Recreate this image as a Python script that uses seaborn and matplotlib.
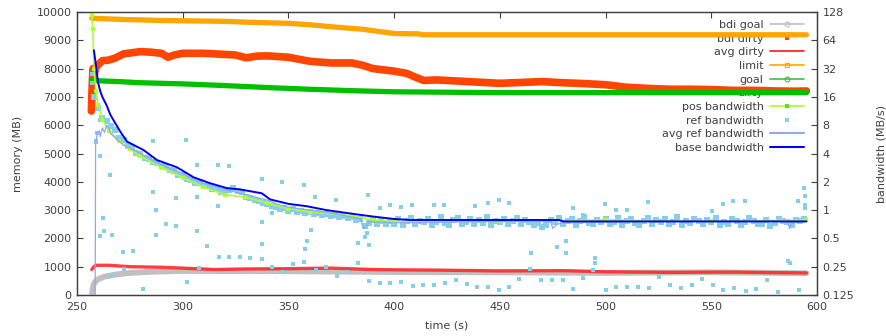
import numpy as np
import matplotlib
matplotlib.use("Agg")
import matplotlib.pyplot as plt
from matplotlib.lines import Line2D
from matplotlib.ticker import FixedLocator, FixedFormatter, NullLocator
import seaborn as sns

# MEMORY SERIES (MB)
limit_t = [257, 270, 290, 300, 320, 330, 350, 360, 370, 385, 400, 412, 413, 595]
limit_mb = [9780, 9740, 9700, 9690, 9670, 9640, 9600, 9550, 9480, 9390, 9240, 9225, 9195, 9195]

bdi_dirty_t = [256.8, 257.0, 257.3, 257.6, 258.0, 258.6, 259, 262, 265, 268, 272, 276, 280, 285,
               290, 293, 296, 300, 310, 320, 325, 330, 335, 340, 350, 360, 370, 380, 385, 390,
               400, 406, 410, 414, 420, 430, 440, 450, 460, 470, 480, 490, 500, 510, 520, 530,
               540, 550, 560, 570, 580, 590, 595]
bdi_dirty_mb = [6500, 7000, 7600, 8000, 7700, 7950, 8070, 8280, 8300, 8370, 8520, 8560, 8600, 8580,
                8540, 8400, 8480, 8540, 8540, 8500, 8480, 8380, 8440, 8450, 8400, 8260, 8200, 8200,
                8120, 8000, 7910, 7830, 7700, 7580, 7600, 7560, 7520, 7480, 7510, 7540, 7500, 7470,
                7430, 7340, 7300, 7270, 7270, 7260, 7230, 7230, 7210, 7200, 7210]

goal_t = [257, 260, 270, 280, 300, 320, 340, 350, 360, 380, 400, 450, 500, 550, 595]
goal_mb = [7600, 7570, 7540, 7500, 7460, 7400, 7330, 7300, 7270, 7220, 7180, 7150, 7150, 7150, 7150]

bdi_goal_t = [257, 257.5, 258, 259, 260, 263, 268, 275, 285, 300, 350, 400, 450, 500, 550, 595]
bdi_goal_mb = [0, 250, 400, 500, 560, 650, 720, 780, 820, 850, 840, 810, 800, 780, 800, 770]

avg_dirty_t = [257, 258, 259, 265, 275, 290, 300, 315, 330, 350, 370, 390, 400, 420, 450, 480,
               500, 530, 560, 580, 595]
avg_dirty_mb = [900, 1000, 1050, 1050, 1000, 980, 950, 900, 920, 930, 950, 900, 890, 880, 850, 860,
                820, 800, 810, 790, 780]

# BANDWIDTH SERIES (MB/s)
pos_bw_t = [257, 257.5, 258, 259, 260, 262, 265, 270, 275, 280, 290, 300, 310, 320, 330, 340,
            350, 360, 380, 390, 400, 450, 500, 550, 595]
pos_bw = [119, 84.4, 32, 18.4, 13, 9.19, 6.96, 5.46, 4.44, 3.73, 2.83, 2.22, 1.74, 1.46, 1.37, 1.19,
          1.035, 0.966, 0.871, 0.785, 0.758, 0.758, 0.785, 0.758, 0.785]

base_bw_t = [258, 259, 260, 261, 262, 264, 265.8, 270.5, 273.7, 281.5, 287.8, 297.3, 305.2, 313,
             321, 327.1, 337.4, 341.3, 350, 358.6, 368, 382.3, 390.2, 399.6, 407.5, 478, 480, 595]
base_bw = [50.2, 34.3, 22.6, 18.4, 16, 13.0, 10.3, 6.82, 5.35, 4.35, 3.41, 2.85, 2.23, 1.93,
           1.71, 1.66, 1.51, 1.30, 1.165, 1.10, 1.0, 0.901, 0.853, 0.806, 0.785, 0.785, 0.758, 0.758]

avg_ref_t = [258.6, 258.8, 259.5, 260.5, 261, 262, 263, 264, 265, 266, 268, 270, 272, 275, 280,
             285, 290, 295, 300, 305, 310, 315, 320, 330, 340, 345, 350, 360, 370, 380, 384,
             385.5, 387, 388, 400, 450, 474, 475, 477, 480, 520, 586, 587, 588, 595]
avg_ref_bw = [0.1, 4.92, 6.5, 6.96, 6.06, 7.46, 6.73, 8.0, 7.46, 6.5, 5.9, 5.4, 4.9, 4.59, 4.0,
              3.48, 3.03, 2.73, 2.46, 2.14, 1.93, 1.80, 1.65, 1.46, 1.275, 1.149, 1.072, 1.0, 0.933,
              0.841, 0.812, 0.637, 0.683, 0.758, 0.732, 0.758, 0.758, 0.637, 0.707, 0.732, 0.758,
              0.758, 0.637, 0.732, 0.758]

# ref bandwidth: main band, one reading every 2 s from t=258
ref_band_bw = [16.0, 12.1, 9.6, 8.8, 7.8, 7.1, 5.9, 5.6, 4.8, 4.55,
               4.05, 3.95, 3.55, 3.50, 3.22, 3.20, 2.93, 2.88, 2.64, 2.60,
               2.38, 2.34, 2.12, 2.10, 1.96, 1.94, 1.79, 1.79, 1.68, 1.67,
               1.57, 1.60, 1.62, 1.71, 1.61, 1.54, 1.39, 1.34, 1.28, 1.25,
               1.19, 1.17, 1.11, 1.09, 1.04, 1.05, 0.98, 1.02, 0.96, 0.99,
               0.94, 0.96, 0.91, 0.94, 0.89, 0.92, 0.86, 0.89, 0.84, 0.87,
               0.82, 0.84, 0.79, 0.80, 0.68, 0.73, 0.78, 0.72, 0.77, 0.71,
               0.76,
               0.72, 0.80, 0.70, 0.77, 0.83, 0.71, 0.76, 0.74, 0.81, 0.69,
               0.75, 0.84, 0.73, 0.70, 0.78, 0.82, 0.72, 0.75, 0.80, 0.71,
               0.79, 0.73, 0.85, 0.70, 0.77, 0.74, 0.81, 0.72, 0.76, 0.83,
               0.71, 0.78, 0.74, 0.69, 0.73, 0.66, 0.70, 0.79, 0.75, 0.82,
               0.72, 0.77, 0.80, 0.70, 0.76, 0.84, 0.73, 0.71, 0.79, 0.75,
               0.81, 0.72, 0.74, 0.83, 0.70, 0.77, 0.80, 0.73, 0.69, 0.76,
               0.82, 0.71, 0.78, 0.74, 0.80, 0.72, 0.75, 0.84, 0.70, 0.77,
               0.73, 0.81, 0.76, 0.71, 0.79, 0.74, 0.82, 0.69, 0.75, 0.72,
               0.80, 0.77, 0.70, 0.74, 0.83, 0.76, 0.72, 0.71, 0.78, 0.68,
               0.73, 0.81, 0.77, 0.74, 0.70, 0.79, 0.76, 0.80]
ref_band_t = np.arange(258, 258 + 2 * len(ref_band_bw), 2)

# ref bandwidth: scattered readings away from the band
ref_out_t = [259.3, 258.8, 259.0, 260.9, 262.4, 262.8, 260.9, 266.4, 265.6, 271.9, 276.6, 281.4,
             286.1, 286.1, 287.2, 287.2, 292.0, 296.7, 296.7, 301.4, 301.9, 306.6, 306.6, 306.6,
             307.7, 311.4, 316.8, 316.8, 317.2, 321.9, 321.9, 327.1, 331.8, 337.4, 337.4, 337.7,
             337.4, 342.2, 346.8, 347.2, 352.0, 357.5, 362.6, 372.7, 387.8, 393.3, 398.0, 403.3,
             342.4, 360.5, 358.6, 357.9, 387.0, 386.3, 382.7, 387.9, 357.5, 367.8, 383.0, 363.0,
             372.8, 377.8, 388.0, 393.2, 398.2, 403.4, 408.3, 419.0, 423.6, 438.3, 444.6, 449.8,
             454.4, 484.8, 489.5, 464.7, 476.9, 481.1, 481.1, 495.0, 495.0, 494.2, 408.7, 413.8,
             418.9, 424.0, 429.1, 434.3, 439.1, 444.3, 449.6, 454.5, 459.2, 464.3, 469.3, 474.8,
             480.0, 484.8, 489.5, 499.8, 505.0, 510.0, 520.2, 550.5, 555.7, 560.4, 565.9, 591.2,
             594.4, 594.4, 594.0, 594.5, 586.5, 587.0, 500.0, 505.0, 510.3, 515.5, 520.6, 525.3,
             530.5, 535.6, 540.8, 545.8, 550.7, 555.7, 560.9, 566.3, 571.2, 576.2, 581.7, 591.5,
             272.2, 266.1, 257.0, 257.3, 260.9]
ref_out_bw = [6.54, 5.28, 5.43, 3.78, 0.818, 0.603, 0.528, 0.543, 2.39, 0.361, 0.371, 0.144,
              5.43, 1.569, 1.0, 0.543, 0.712, 0.678, 1.338, 5.58, 0.173, 3.01, 1.385, 0.599,
              0.243, 0.418, 3.01, 1.102, 0.314, 2.97, 0.314, 0.319, 0.308, 2.13, 0.747, 0.432,
              0.301, 0.25, 2.0, 0.221, 0.264, 1.84, 1.366, 1.283, 1.444, 1.057, 1.125, 1.087,
              0.939, 0.616, 0.47, 0.39, 0.574, 0.514, 0.451, 0.426, 0.279, 0.248, 0.272, 0.228,
              0.199, 0.219, 0.176, 0.166, 0.166, 0.170, 1.133, 1.133, 1.133, 1.102, 1.197, 1.283,
              1.181, 1.042, 0.889, 0.347, 0.409, 0.47, 0.354, 0.308, 0.272, 0.23, 0.157, 0.159,
              0.159, 0.166, 0.18, 0.164, 0.151, 0.151, 0.142, 0.151, 0.183, 0.237, 0.18, 0.18,
              0.18, 0.144, 0.188, 1.165, 1.0, 1.0, 1.214, 0.986, 1.149, 1.257, 1.248, 1.248,
              1.133, 1.042, 1.717, 1.414, 0.287, 0.272, 0.142, 0.151, 0.151, 0.151, 0.149, 0.194,
              0.159, 0.149, 0.159, 0.183, 0.159, 0.142, 0.149, 0.138, 0.144, 0.18, 0.134, 0.142,
              0.237, 0.203, 22.6, 27.9, 9.19]

bw_ticks = [0.125, 0.25, 0.5, 1, 2, 4, 8, 16, 32, 64, 128]
bw_tick_labels = ["0.125", "0.25", "0.5", "1", "2", "4", "8", "16", "32", "64", "128"]

# COLOURS
c_bdi_goal = "#c0c0c0"
c_bdi_dirty = "#ff4500"
c_avg_dirty = "#ff2a2a"
c_limit = "#ffa500"
c_goal = "#00c000"
c_pos = "#adff2f"
c_ref = "#87ceeb"
c_avg_ref = "#8fa8f0"
c_base = "#0000ee"
c_text = "#404040"

# STYLE
sns.set_theme(style="white")
plt.rcParams["font.family"] = ["DejaVu Sans"]
plt.rcParams["font.size"] = 8
plt.rcParams["text.color"] = c_text
plt.rcParams["axes.labelcolor"] = c_text
plt.rcParams["xtick.color"] = c_text
plt.rcParams["ytick.color"] = c_text

fig = plt.figure(figsize=(8.87, 3.36), dpi=100)
ax = fig.add_axes([0.0868, 0.122, 0.8343, 0.8423])
ax2 = ax.twinx()

# memory (left axis)
sns.lineplot(x=bdi_goal_t, y=bdi_goal_mb, ax=ax, color=c_bdi_goal, linewidth=4.2,
             estimator=None, sort=False, zorder=3)
sns.lineplot(x=bdi_dirty_t, y=bdi_dirty_mb, ax=ax, color=c_bdi_dirty, linewidth=5.5,
             estimator=None, sort=False, zorder=3, solid_capstyle="round")
sns.lineplot(x=avg_dirty_t, y=avg_dirty_mb, ax=ax, color=c_avg_dirty, linewidth=2.4,
             estimator=None, sort=False, zorder=3, alpha=0.9)
sns.lineplot(x=limit_t, y=limit_mb, ax=ax, color=c_limit, linewidth=3.8,
             estimator=None, sort=False, zorder=3)
sns.lineplot(x=goal_t, y=goal_mb, ax=ax, color=c_goal, linewidth=3.8,
             estimator=None, sort=False, zorder=3)

# bandwidth (right axis, log2)
ax2.set_yscale("log", base=2)
sns.lineplot(x=pos_bw_t, y=pos_bw, ax=ax2, color=c_pos, linewidth=1.2, marker="s",
             markersize=2.5, markeredgewidth=0, estimator=None, sort=False)
sns.scatterplot(x=ref_band_t, y=ref_band_bw, ax=ax2, color=c_ref, marker="s", s=16,
                linewidth=0)
sns.scatterplot(x=ref_out_t, y=ref_out_bw, ax=ax2, color=c_ref, marker="s", s=8,
                linewidth=0)
sns.lineplot(x=avg_ref_t, y=avg_ref_bw, ax=ax2, color=c_avg_ref, linewidth=0.9,
             estimator=None, sort=False)
sns.lineplot(x=base_bw_t, y=base_bw, ax=ax2, color=c_base, linewidth=1.4,
             estimator=None, sort=False)

# AXES
ax.set_xlim(250, 600)
ax.set_ylim(0, 10000)
ax.set_xticks(range(250, 601, 50))
ax.set_yticks(range(0, 10001, 1000))
ax2.set_ylim(0.125, 128)
ax2.yaxis.set_major_locator(FixedLocator(bw_ticks))
ax2.yaxis.set_major_formatter(FixedFormatter(bw_tick_labels))
ax2.yaxis.set_minor_locator(NullLocator())

ax.tick_params(axis="x", direction="in", length=4, width=0.8, top=True, labelsize=8, pad=5)
ax.tick_params(axis="y", direction="in", length=4, width=0.8, labelsize=8, pad=4)
ax2.tick_params(axis="y", direction="in", length=4, width=0.8, labelsize=8, pad=4)
for a in (ax, ax2):
    for s in a.spines.values():
        s.set_color(c_text)
        s.set_linewidth(0.9)

ax.set_xlabel("time (s)", fontsize=8, labelpad=6)
ax.set_ylabel("memory (MB)", fontsize=8, labelpad=10)
ax2.set_ylabel("bandwidth (MB/s)", fontsize=8, labelpad=16)

# LEGEND (gnuplot style: text right-aligned, sample after text)
handles = [
    Line2D([], [], color=c_bdi_goal, lw=1.2, marker="o", ms=3.5, mfc="none", mew=0.8),
    Line2D([], [], color=c_bdi_dirty, lw=0, marker="s", ms=2.5, mew=0),
    Line2D([], [], color=c_avg_dirty, lw=1.3),
    Line2D([], [], color=c_limit, lw=1.2, marker="s", ms=3.5, mfc="none", mew=0.8),
    Line2D([], [], color="#40c040", lw=1.2, marker="o", ms=3.5, mfc="none", mew=0.8),
    Line2D([], [], color=c_bdi_dirty, lw=0),
    Line2D([], [], color=c_pos, lw=1.3, marker="s", ms=2.8, mfc="#66dd22", mew=0),
    Line2D([], [], color=c_ref, lw=0, marker="s", ms=2.5, mew=0),
    Line2D([], [], color=c_avg_ref, lw=1.5),
    Line2D([], [], color=c_base, lw=1.5),
]
labels = ["bdi goal", "bdi dirty", "avg dirty", "limit", "goal", "dirty",
          "pos bandwidth", "ref bandwidth", "avg ref bandwidth", "base bandwidth"]
leg = ax.legend(handles, labels, loc="upper right", bbox_to_anchor=(0.985, 0.98),
                frameon=False, markerfirst=False, fontsize=8, handlelength=3.0,
                handletextpad=0.6, labelspacing=0.33, borderpad=0.2, borderaxespad=0)
for col in leg._legend_handle_box.get_children():
    col.align = "right"
leg.set_zorder(1.5)

fig.savefig("out.png", dpi=100)
